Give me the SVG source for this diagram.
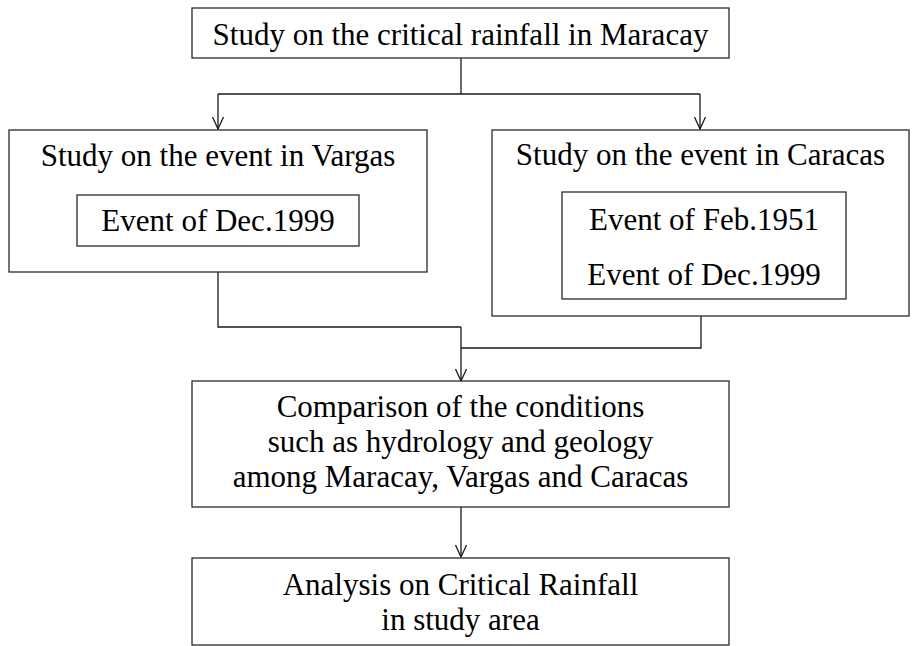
<svg xmlns="http://www.w3.org/2000/svg" width="912" height="646" viewBox="0 0 912 646">
  <style>
    .box { fill: #ffffff; stroke: #2a2a2a; stroke-width: 1.3; }
    .wire { fill: none; stroke: #1a1a1a; stroke-width: 1.3; }
    text { font-family: "Liberation Serif", "Times New Roman", serif; font-size: 31px; fill: #000000; text-anchor: middle; }
  </style>
  <defs>
    <!-- open V arrowhead, drawn along +x so orient="auto" turns it with the line -->
    <marker id="vhead" viewBox="-1 -1 14 13" refX="12" refY="5.5" markerWidth="14" markerHeight="13" markerUnits="userSpaceOnUse" orient="auto">
      <path d="M0,0 L12,5.5 L0,11" fill="none" stroke="#1a1a1a" stroke-width="1.3"/>
    </marker>
  </defs>
  <rect width="912" height="646" fill="#ffffff"/>

  <g id="connectors">
    <path class="wire" d="M461,58 V94"/>
    <path class="wire" d="M218,94 H700"/>
    <path class="wire" d="M218,94 V129" marker-end="url(#vhead)"/>
    <path class="wire" d="M700,94 V129" marker-end="url(#vhead)"/>
    <path class="wire" d="M218,272 V327 H461"/>
    <path class="wire" d="M701,316 V348 H461"/>
    <path class="wire" d="M461,327 V381" marker-end="url(#vhead)"/>
    <path class="wire" d="M461,507 V557" marker-end="url(#vhead)"/>
  </g>

  <g id="maracay">
    <rect class="box" x="192" y="8" width="537" height="50"/>
    <text x="460.5" y="45">Study on the critical rainfall in Maracay</text>
  </g>

  <g id="vargas">
    <rect class="box" x="9" y="130" width="418" height="142"/>
    <text x="218" y="166">Study on the event in Vargas</text>
  </g>
  <g id="vargas-dec1999">
    <rect class="box" x="77" y="195" width="282" height="51"/>
    <text x="218" y="231">Event of Dec.1999</text>
  </g>

  <g id="caracas">
    <rect class="box" x="492" y="130" width="417" height="186"/>
    <text x="700.5" y="165">Study on the event in Caracas</text>
  </g>
  <g id="caracas-events">
    <rect class="box" x="562" y="192" width="284" height="107"/>
    <text x="704" y="230">Event of Feb.1951</text>
    <text x="704" y="285">Event of Dec.1999</text>
  </g>

  <g id="comparison">
    <rect class="box" x="192" y="381" width="537" height="126"/>
    <text x="460.5" y="417">Comparison of the conditions</text>
    <text x="460.5" y="452">such as hydrology and geology</text>
    <text x="460.5" y="487">among Maracay, Vargas and Caracas</text>
  </g>

  <g id="analysis">
    <rect class="box" x="192" y="558" width="537" height="87"/>
    <text x="460.5" y="595">Analysis on Critical Rainfall</text>
    <text x="460.5" y="630">in study area</text>
  </g>
</svg>
